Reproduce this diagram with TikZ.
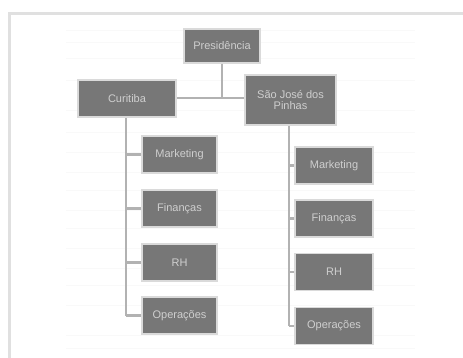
\documentclass[tikz,border=0pt]{standalone}
\usepackage{fontspec}
\setmainfont{Liberation Sans}
\begin{document}
\begin{tikzpicture}[x=1pt,y=-1pt,
  unit/.style={draw=boxedge,line width=1.6pt,fill=boxfill,text=boxtext,
    font=\fontsize{11}{11.5}\selectfont,align=center,inner sep=0.5pt},
  link/.style={draw=linkgray,line width=2.2pt}]
  \definecolor{boxfill}{HTML}{777777}
  \definecolor{boxedge}{HTML}{DADADA}
  \definecolor{boxtext}{HTML}{CFCFCF}
  \definecolor{linkgray}{HTML}{B2B2B2}
  \definecolor{framegray}{HTML}{E0E0E0}
  \definecolor{stripe}{HTML}{F9F9F9}
  % page area
  \useasboundingbox (0,0) rectangle (463,358);
  \fill[white] (0,0) rectangle (463,358);
  % faint ruled background
  \foreach \yy in {30,42,58,80,110,132,152,172,190,210,228,248,268,285,305,335,348}
    \draw[stripe,line width=0.8pt] (66,\yy) -- (415,\yy);
  % outer frame
  \draw[framegray,line width=3pt] (9.5,358) -- (9.5,13.5) -- (463,13.5);

  % top level
  \node[unit,minimum width=76pt,minimum height=34pt] (pres) at (222,46) {Presidência};
  \node[unit,minimum width=98pt,minimum height=37pt] (cur) at (127,98.5) {Curitiba};
  \node[unit,minimum width=91pt,minimum height=50pt] (sjp) at (290.5,100) {São José dos\\Pinhas};

  % Curitiba departments
  \node[unit,minimum width=75pt,minimum height=37pt] (cm) at (179.5,154.5) {Marketing};
  \node[unit,minimum width=75pt,minimum height=37pt] (cf) at (179.5,208.5) {Finanças};
  \node[unit,minimum width=75pt,minimum height=37pt] (cr) at (179.5,262.5) {RH};
  \node[unit,minimum width=75pt,minimum height=37pt] (co) at (179.5,315.5) {Operações};

  % São José dos Pinhas departments
  \node[unit,minimum width=78pt,minimum height=37pt] (sm) at (334,165.5) {Marketing};
  \node[unit,minimum width=78pt,minimum height=37pt] (sf) at (334,218.5) {Finanças};
  \node[unit,minimum width=78pt,minimum height=37pt] (sr) at (334,272) {RH};
  \node[unit,minimum width=78pt,minimum height=37pt] (so) at (334,326) {Operações};

  % connectors: presidency to the two cities
  \coordinate (bus) at (222,98);
  \draw[link] (pres.south) -- (bus);
  \draw[link] (cur.east |- bus) -- (sjp.west |- bus);

  % Curitiba trunk and branches
  \coordinate (ctop) at ([xshift=-1pt]cur.south);
  \coordinate (cbot) at (ctop |- co.west);
  \draw[link] (ctop) -- (cbot);
  \foreach \d in {cm,cf,cr,co}
    \draw[link] (ctop |- \d.west) -- (\d.west);

  % São José dos Pinhas trunk and branches
  \coordinate (stop) at ([xshift=-1.5pt]sjp.south);
  \coordinate (sbot) at (stop |- so.west);
  \draw[link] (stop) -- (sbot);
  \foreach \d in {sm,sf,sr,so}
    \draw[link] (stop |- \d.west) -- (\d.west);
\end{tikzpicture}
\end{document}
